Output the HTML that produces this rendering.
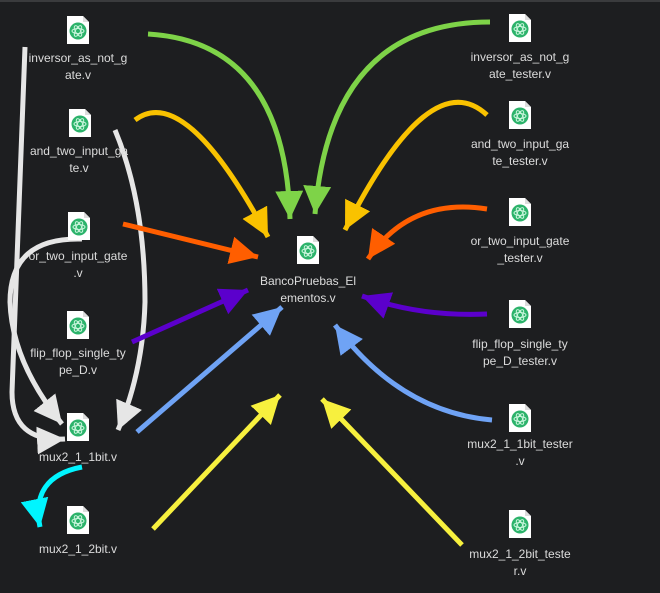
<!DOCTYPE html>
<html><head><meta charset="utf-8"><style>
body{margin:0;background:#1d1e20;}
#c{position:relative;width:660px;height:593px;overflow:hidden;background:#1d1e20;border-top:2px solid #3a3b3d;box-sizing:border-box;font-family:"Liberation Sans",sans-serif;}
.lbl{position:absolute;color:#dcdcdc;font-size:12px;line-height:17px;text-align:center;width:140px;}
svg{position:absolute;left:0;top:0;}
</style></head><body><div id="c">
<svg width="660" height="593" viewBox="0 0 660 593">
<defs>
<symbol id="doc" viewBox="0 0 22 28"><path d="M0,0 H16 L22,6 V28 H0 Z" fill="#fff"/><path d="M16,0 V6 H22" fill="#ddd"/><circle cx="11" cy="15" r="8.5" fill="#2cb36b"/><g fill="none" stroke="#c9f5dc" stroke-width="1"><ellipse cx="11" cy="15" rx="6" ry="2.5"/><ellipse cx="11" cy="15" rx="6" ry="2.5" transform="rotate(60 11 15)"/><ellipse cx="11" cy="15" rx="6" ry="2.5" transform="rotate(-60 11 15)"/></g></symbol>
<marker id="mW" markerUnits="userSpaceOnUse" markerWidth="32" markerHeight="32" refX="28" refY="14" orient="auto"><path d="M0,0 L28,14 L0,28z" fill="#e6e6e6"/></marker>
<marker id="mG" markerUnits="userSpaceOnUse" markerWidth="32" markerHeight="32" refX="28" refY="14" orient="auto"><path d="M0,0 L28,14 L0,28z" fill="#7ed348"/></marker>
<marker id="mY" markerUnits="userSpaceOnUse" markerWidth="32" markerHeight="32" refX="28" refY="14" orient="auto"><path d="M0,0 L28,14 L0,28z" fill="#f9c200"/></marker>
<marker id="mO" markerUnits="userSpaceOnUse" markerWidth="32" markerHeight="32" refX="28" refY="14" orient="auto"><path d="M0,0 L28,14 L0,28z" fill="#ff5e00"/></marker>
<marker id="mP" markerUnits="userSpaceOnUse" markerWidth="32" markerHeight="32" refX="28" refY="14" orient="auto"><path d="M0,0 L28,14 L0,28z" fill="#5b00cc"/></marker>
<marker id="mB" markerUnits="userSpaceOnUse" markerWidth="32" markerHeight="32" refX="28" refY="14" orient="auto"><path d="M0,0 L28,14 L0,28z" fill="#6fa3f5"/></marker>
<marker id="mL" markerUnits="userSpaceOnUse" markerWidth="32" markerHeight="32" refX="28" refY="14" orient="auto"><path d="M0,0 L28,14 L0,28z" fill="#f7f03e"/></marker>
<marker id="mC" markerUnits="userSpaceOnUse" markerWidth="32" markerHeight="32" refX="28" refY="14" orient="auto"><path d="M0,0 L28,14 L0,28z" fill="#00f5ff"/></marker>
</defs>
<g fill="none" stroke-width="5" stroke-linecap="butt">
<path d="M25,45 L12,390 Q12,440 65,437" stroke="#e6e6e6" marker-end="url(#mW)"/>
<path d="M82,237 Q10,235 10,300 Q12,360 62,422" stroke="#e6e6e6" marker-end="url(#mW)"/>
<path d="M115,128 Q145,200 145,300 Q143,370 118,428" stroke="#e6e6e6" marker-end="url(#mW)"/>
<path d="M82,465 Q30,475 40,525" stroke="#00f5ff" marker-end="url(#mC)"/>
<path d="M148,32 Q285,40 290,217" stroke="#7ed348" marker-end="url(#mG)"/>
<path d="M490,20 Q330,20 315,212" stroke="#7ed348" marker-end="url(#mG)"/>
<path d="M135,118 Q185,80 268,235" stroke="#f9c200" marker-end="url(#mY)"/>
<path d="M487,113 Q430,60 345,228" stroke="#f9c200" marker-end="url(#mY)"/>
<path d="M123,222 L258,255" stroke="#ff5e00" marker-end="url(#mO)"/>
<path d="M487,207 Q410,195 368,257" stroke="#ff5e00" marker-end="url(#mO)"/>
<path d="M132,340 L248,288" stroke="#5b00cc" marker-end="url(#mP)"/>
<path d="M487,312 Q420,315 362,294" stroke="#5b00cc" marker-end="url(#mP)"/>
<path d="M137,430 L282,305" stroke="#6fa3f5" marker-end="url(#mB)"/>
<path d="M492,418 Q400,410 335,323" stroke="#6fa3f5" marker-end="url(#mB)"/>
<path d="M153,527 L280,393" stroke="#f7f03e" marker-end="url(#mL)"/>
<path d="M462,543 L322,397" stroke="#f7f03e" marker-end="url(#mL)"/>
</g>
<use href="#doc" x="67" y="14" width="22" height="28"/>
<use href="#doc" x="69" y="107" width="22" height="28"/>
<use href="#doc" x="68" y="210" width="22" height="28"/>
<use href="#doc" x="67" y="309" width="22" height="28"/>
<use href="#doc" x="67" y="411" width="22" height="28"/>
<use href="#doc" x="67" y="504" width="22" height="28"/>
<use href="#doc" x="297" y="234" width="22" height="28"/>
<use href="#doc" x="509" y="12" width="22" height="28"/>
<use href="#doc" x="509" y="99" width="22" height="28"/>
<use href="#doc" x="509" y="196" width="22" height="28"/>
<use href="#doc" x="509" y="298" width="22" height="28"/>
<use href="#doc" x="509" y="402" width="22" height="28"/>
<use href="#doc" x="509" y="508" width="22" height="28"/>
</svg>
<div class="lbl" style="left:8px;top:48px">inversor_as_not_g<br>ate.v</div>
<div class="lbl" style="left:9px;top:141px">and_two_input_ga<br>te.v</div>
<div class="lbl" style="left:8px;top:246px">or_two_input_gate<br>.v</div>
<div class="lbl" style="left:8px;top:343px">flip_flop_single_ty<br>pe_D.v</div>
<div class="lbl" style="left:8px;top:447px">mux2_1_1bit.v</div>
<div class="lbl" style="left:8px;top:539px">mux2_1_2bit.v</div>
<div class="lbl" style="left:238px;top:271px">BancoPruebas_El<br>ementos.v</div>
<div class="lbl" style="left:450px;top:47px">inversor_as_not_g<br>ate_tester.v</div>
<div class="lbl" style="left:450px;top:134px">and_two_input_ga<br>te_tester.v</div>
<div class="lbl" style="left:450px;top:231px">or_two_input_gate<br>_tester.v</div>
<div class="lbl" style="left:450px;top:334px">flip_flop_single_ty<br>pe_D_tester.v</div>
<div class="lbl" style="left:450px;top:434px">mux2_1_1bit_tester<br>.v</div>
<div class="lbl" style="left:450px;top:544px">mux2_1_2bit_teste<br>r.v</div>
</div></body></html>
